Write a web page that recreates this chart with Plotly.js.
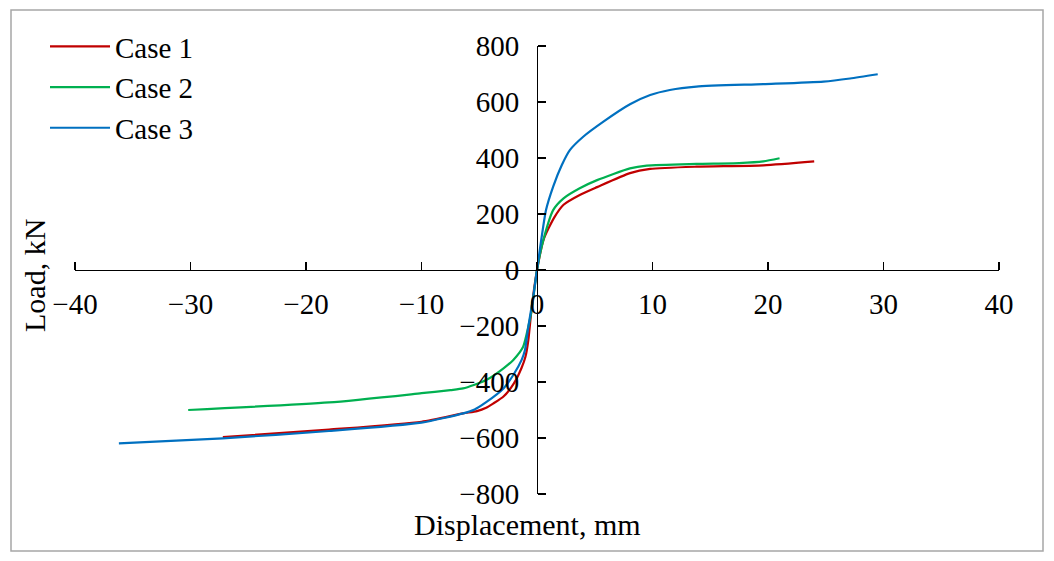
<!DOCTYPE html>
<html>
<head>
<meta charset="utf-8">
<script src="https://cdn.plot.ly/plotly-3.0.1.min.js"></script>
<style>
  body { margin: 0; background: #fff; }
  #chart { width: 1054px; height: 561px; }
</style>
</head>
<body>
<div id="chart"></div>
<script>
// displacement (mm) / load (kN)
var case1X = [-27.2, -18, -10, -6.4, -5.2, -4.4, -3.8, -2.9, -2.0, -1.35, -1.0, -0.75, -0.45, 0, 0.6, 1.5, 2.3, 3.7, 5.2, 8.05, 9.8, 13.8, 19.6, 24.0];
var case1Y = [-597, -570, -542, -512, -504, -492, -477, -452, -405, -351, -310, -250, -131, 0, 112, 188, 233, 268, 296, 346, 361, 369, 374, 388];

var case2X = [-30.2, -18, -10, -7.5, -6.4, -4.4, -2.9, -2.05, -1.2, -0.75, -0.46, 0, 0.55, 1.4, 2.3, 3.7, 5.2, 8.05, 9.5, 13.8, 17.5, 19.6, 21.0];
var case2Y = [-500, -473, -440, -429, -423, -393, -351, -321, -274, -202, -143, 0, 107, 214, 256, 292, 321, 363, 373, 379, 382, 388, 399];

var case3X = [-36.2, -27.2, -18, -10, -6.4, -5.4, -4.4, -2.9, -2.05, -1.33, -1.04, -0.75, -0.32, 0, 0.78, 1.4, 2.15, 2.86, 4.0, 5.75, 8.05, 9.8, 11.5, 13.8, 19.6, 24.8, 27.1, 29.5];
var case3Y = [-619, -601, -575, -545, -512, -498, -472, -423, -375, -321, -286, -202, -95, 0, 214, 298, 375, 429, 476, 530, 592, 625, 643, 655, 664, 673, 684, 699];

var names = ['Case 1', 'Case 2', 'Case 3'];
var colors = ['#C00000', '#00B050', '#0070C0'];
var xs = [case1X, case2X, case3X];
var ys = [case1Y, case2Y, case3Y];

var W = 1054, H = 561;
var m = {l: 75, r: 55, t: 46, b: 67};
var pw = W - m.l - m.r, ph = H - m.t - m.b;
function px(x) { return (x - m.l) / pw; }
function py(y) { return (H - y - m.b) / ph; }

var data = [];
for (var i = 0; i < 3; i++) {
    data.push({
        x: xs[i], y: ys[i],
        mode: 'lines',
        name: names[i],
        line: {color: colors[i], width: 2.2, shape: 'spline', smoothing: 0.6},
        type: 'scatter'
    });
}
// empty trace so the tick-only axes get drawn
data.push({x: [], y: [], xaxis: 'x2', yaxis: 'y2', type: 'scatter', showlegend: false, hoverinfo: 'skip'});

var font = {family: 'Liberation Serif, Times New Roman, serif', size: 29, color: '#000'};
var titleFont = {family: 'Liberation Serif, Times New Roman, serif', size: 30, color: '#000'};

// axes cross at zero; second pair only draws the tick marks (up / right)
var xaxisBase = {
    range: [-40, 40], dtick: 10, anchor: 'free', position: 0.5,
    showgrid: false, zeroline: false, fixedrange: true
};
var yaxisBase = {
    range: [-800, 800], dtick: 200, anchor: 'free', position: 0.5,
    showgrid: false, zeroline: false, fixedrange: true
};
var tickOnly = {
    showline: false, showticklabels: false, tickfont: {size: 10},
    ticks: 'outside', ticklen: 8, tickcolor: '#000', tickwidth: 1.3
};

var layout = {
    width: W, height: H,
    margin: m,
    paper_bgcolor: '#fff',
    plot_bgcolor: '#fff',
    font: font,
    showlegend: true,
    legend: {
        x: px(45), y: py(21), xanchor: 'left', yanchor: 'top',
        bgcolor: 'rgba(0,0,0,0)', font: font, itemwidth: 60
    },
    xaxis: Object.assign({}, xaxisBase, {
        showline: true, linecolor: '#000', linewidth: 1.3,
        ticks: '', ticklabelstandoff: 8
    }),
    yaxis: Object.assign({}, yaxisBase, {
        showline: true, linecolor: '#000', linewidth: 1.3,
        ticks: '', ticklabelstandoff: 12
    }),
    xaxis2: Object.assign({}, xaxisBase, tickOnly, {overlaying: 'x', side: 'top'}),
    yaxis2: Object.assign({}, yaxisBase, tickOnly, {overlaying: 'y', side: 'right'}),
    annotations: [
        {text: 'Load, kN', xref: 'paper', yref: 'paper', x: px(34), y: py(276),
         textangle: -90, showarrow: false, xanchor: 'center', yanchor: 'middle', font: titleFont},
        {text: 'Displacement, mm', xref: 'paper', yref: 'paper', x: px(527), y: py(524),
         showarrow: false, xanchor: 'center', yanchor: 'middle', font: titleFont}
    ],
    shapes: [
        {type: 'rect', xref: 'paper', yref: 'paper',
         x0: px(11), x1: px(1043), y0: py(551), y1: py(10),
         line: {color: '#A6A6A6', width: 1.5}, fillcolor: 'rgba(0,0,0,0)', layer: 'below'}
    ]
};

Plotly.newPlot('chart', data, layout, {displayModeBar: false, staticPlot: true});
</script>
</body>
</html>
